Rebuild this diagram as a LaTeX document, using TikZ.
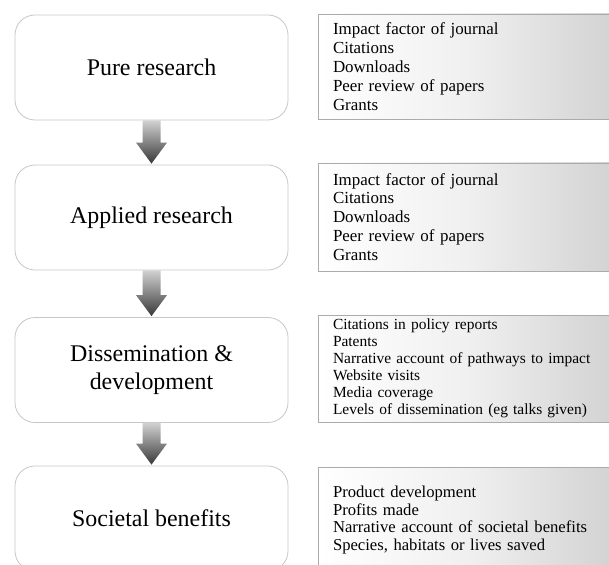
\documentclass[tikz,border=0pt]{standalone}
\usepackage{fontspec}
\setmainfont{Liberation Serif}
\usetikzlibrary{calc}

\tikzset{
  stage/.style={draw=black!22, line width=0.8bp, fill=white, rounded corners=20bp,
    minimum width=273bp, minimum height=105bp, align=center, inner sep=0pt,
    font=\fontsize{24}{28}\selectfont},
  metrics/.style={draw=black!33, line width=0.8bp, minimum width=302bp,
    text width=272bp, inner xsep=15bp, inner ysep=0pt, align=left,
    left color=white, right color=black!18, middle color=black!6},
  flowarrow/.style={top color=black!18, bottom color=black!78}
}

\begin{document}
\begin{tikzpicture}[x=1bp,y=-1bp]
  \path[use as bounding box] (0,0) rectangle (609,565);
  \clip (0,0) rectangle (609,565);
  \fill[white] (0,0) rectangle (609,565);

  % stages of the research pathway
  \node[stage] (s1) at (151.5,67.5)  {Pure research};
  \node[stage] (s2) at (151.5,217.5) {Applied research};
  \node[stage] (s3) at (151.5,370)   {Dissemination \&\\development};
  \node[stage] (s4) at (151.5,518.5) {Societal benefits};

  % indicators for each stage
  \node[metrics, minimum height=105bp, font=\fontsize{17}{19}\selectfont] (m1) at (469,66.5)
    {Impact factor of journal\\Citations\\Downloads\\Peer review of papers\\Grants};
  \node[metrics, minimum height=108bp, font=\fontsize{17}{19}\selectfont] (m2) at (469,217)
    {Impact factor of journal\\Citations\\Downloads\\Peer review of papers\\Grants};
  \node[metrics, minimum height=107bp, font=\fontsize{15.5}{17}\selectfont] (m3) at (469,368.5)
    {Citations in policy reports\\Patents\\Narrative account of pathways to impact\\Website visits\\Media coverage\\Levels of dissemination (eg talks given)};
  \node[metrics, minimum height=106bp, font=\fontsize{16.7}{18}\selectfont] (m4) at (469,520)
    {Product development\\Profits made\\Narrative account of societal benefits\\Species, habitats or lives saved};

  % block arrows between consecutive stages
  \foreach \a/\b in {s1/s2, s2/s3, s3/s4} {
    \path[flowarrow] let \p1=(\a.south), \p2=(\b.north) in
      (\x1-9bp,\y1) -- (\x1+9bp,\y1) -- (\x1+9bp,\y2+22bp) -- (\x1+15.5bp,\y2+22bp)
      -- (\x1,\y2+1bp) -- (\x1-15.5bp,\y2+22bp) -- (\x1-9bp,\y2+22bp) -- cycle;
  }
\end{tikzpicture}
\end{document}
